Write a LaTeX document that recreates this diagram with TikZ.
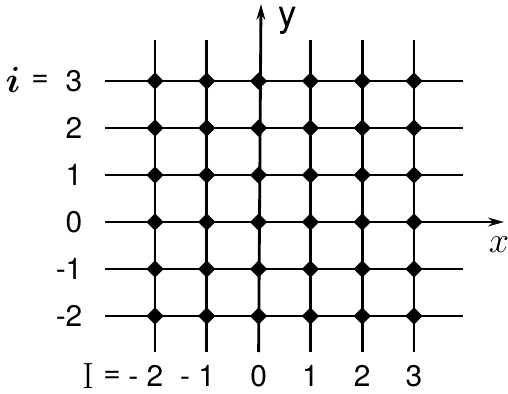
\documentclass[tikz,border=0pt]{standalone}
\usepackage{bm}
\usepackage[no-math]{fontspec}
\setmainfont{TeX Gyre Heros}
\usetikzlibrary{shapes.geometric,arrows.meta}
\tikzset{
  lattice/.style={line width=1.6pt},
  axis/.style={line width=1.6pt, -{Stealth[length=9pt,width=5pt]}},
  site/.style={diamond, fill, inner sep=0pt, minimum size=0.35cm},
  lbl/.style={font=\fontsize{17}{19}\selectfont, inner sep=1pt},
  big lbl/.style={lbl, font=\fontsize{21}{23}\selectfont},
}

\begin{document}
\begin{tikzpicture}[x=0.02cm, y=-0.02cm]
  \useasboundingbox (0,0) rectangle (508,393);
  % column I runs -2..3, row i runs -2..3
  \foreach \I [count=\c] in {-2,...,3} {
    \coordinate (T\c) at ({155+51.8*(\I+2)}, 40);
    \coordinate (B\c) at ({155+51.8*(\I+2)}, 352);
    \node[lbl] (col\c) at ({155+51.8*(\I+2)}, 376)
      {\ifnum\I<0 \llap{-\ }\the\numexpr-\I\relax\else\I\fi};
  }
  \foreach \i [count=\r] in {-2,...,3} {
    \coordinate (L\r) at (105, {222-47*\i});
    \coordinate (R\r) at (463, {222-47*\i});
    \node[lbl] (row\r) at (74, {222-47*\i})
      {\ifnum\i<0 \llap{-}\the\numexpr-\i\relax\else\i\fi};
  }
  \coordinate (ytip) at (261,4);
  \coordinate (xtip) at (504,222);

  \foreach \c in {1,2,4,5,6}
    \draw[lattice] (B\c) -- (T\c);
  \foreach \r in {1,2,4,5,6}
    \draw[lattice] (L\r) -- (R\r);
  \draw[axis] (B3) -- (ytip);
  \draw[axis] (L3) -- (xtip);

  \foreach \c in {1,...,6}
    \foreach \r in {1,...,6}
      \node[site] (s\c\r) at (T\c |- L\r) {};

  \node[big lbl] (ilbl) at (13,80) {$\bm{i}$};
  \node[lbl] (ieq) at (40,81) {=};
  \node[big lbl] (Ilbl) at (88,376) {$\mathrm{I}$};
  \node[lbl] (Ieq) at (112,377) {=};
  \node[big lbl] (ylbl) at (288,21) {y};
  \node[big lbl] (xlbl) at (499,245) {$x$};
\end{tikzpicture}
\end{document}
